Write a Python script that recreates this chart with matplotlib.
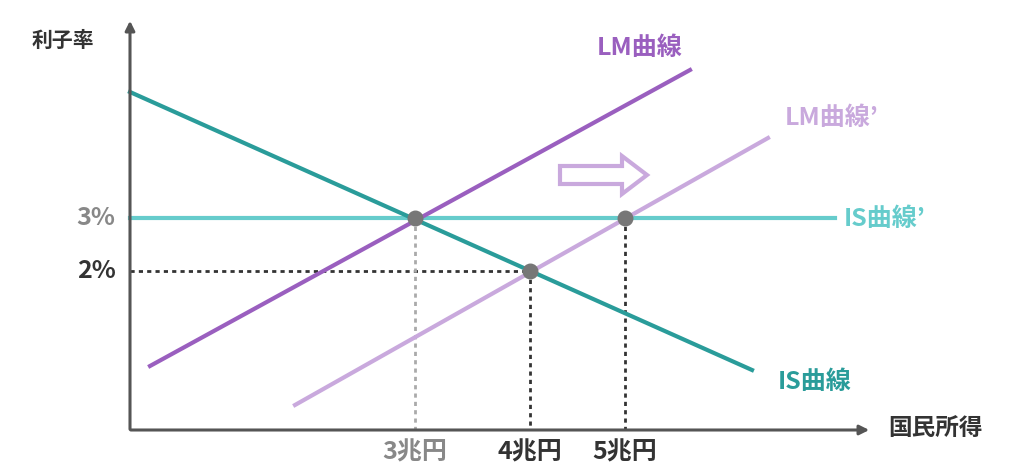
import matplotlib
matplotlib.use("Agg")
import matplotlib.pyplot as plt
from matplotlib.patches import FancyArrow

plt.rcParams['font.family'] = ['Noto Sans CJK JP', 'DejaVu Sans']

# curve endpoints (chart units)
is_x = [130, 752]; is_y = [92, 370]
lm_x = [150, 690]; lm_y = [366, 70]
lm2_x = [295, 768]; lm2_y = [405, 138]
is2_x = [130, 835]; is2_y = [218, 218]
pts_x = [415, 530, 625]; pts_y = [218, 271, 218]
xticks = [415, 530, 625]; xlabels = ["3兆円", "4兆円", "5兆円"]
yticks = [218, 271]; ylabels = ["3%", "2%"]

teal = "#2a9c9a"; purple = "#9a5fbf"; lpurple = "#c9a9dd"; lteal = "#66cccc"
gray = "#888888"; dark = "#333333"

fig = plt.figure(figsize=(10.24, 4.75), dpi=100)
ax = fig.add_axes([0, 0, 1, 1])
ax.set_xlim(0, 1024); ax.set_ylim(475, 0); ax.axis('off')

ax.annotate("", xy=(130, 18), xytext=(130, 432),
            arrowprops=dict(arrowstyle="-|>", color="#555555", lw=2.2, mutation_scale=14))
ax.annotate("", xy=(872, 430), xytext=(128, 430),
            arrowprops=dict(arrowstyle="-|>", color="#555555", lw=2.2, mutation_scale=14))

ax.plot([130, pts_x[0]], [pts_y[0]] * 2, ls=(0, (1.5, 1.5)), color="#aaaaaa", lw=2)
ax.plot([130, pts_x[1]], [pts_y[1]] * 2, ls=(0, (1.5, 1.5)), color=dark, lw=2)
ax.plot([pts_x[0]] * 2, [pts_y[0], 430], ls=(0, (1.5, 1.5)), color="#aaaaaa", lw=2)
ax.plot([pts_x[1]] * 2, [pts_y[1], 430], ls=(0, (1.5, 1.5)), color=dark, lw=2)
ax.plot([pts_x[2]] * 2, [pts_y[2], 430], ls=(0, (1.5, 1.5)), color=dark, lw=2)

ax.plot(is2_x, is2_y, color=lteal, lw=3)
ax.plot(lm2_x, lm2_y, color=lpurple, lw=3)
ax.plot(is_x, is_y, color=teal, lw=3)
ax.plot(lm_x, lm_y, color=purple, lw=3)
ax.scatter(pts_x, pts_y, s=110, color="#777777", zorder=5)

ax.add_patch(FancyArrow(560, 175, 62, 0, width=18, head_width=38, head_length=25,
                        length_includes_head=False, fc="white", ec=lpurple, lw=3))

fs = 18
ax.text(640, 48, "LM曲線", color=purple, fontsize=fs, weight='bold', ha='center', va='center')
ax.text(832, 118, "LM曲線’", color=lpurple, fontsize=fs, weight='bold', ha='center', va='center')
ax.text(885, 219, "IS曲線’", color=lteal, fontsize=fs, weight='bold', ha='center', va='center')
ax.text(815, 382, "IS曲線", color=teal, fontsize=fs, weight='bold', ha='center', va='center')
ax.text(63, 40, "利子率", color=dark, fontsize=15, weight='bold', ha='center', va='center')
ax.text(936, 428, "国民所得", color=dark, fontsize=17, weight='bold', ha='center', va='center')
for y, l, c in zip(yticks, ylabels, [gray, dark]):
    ax.text(96, y, l, color=c, fontsize=fs, weight='bold', ha='center', va='center')
for x, l, c in zip(xticks, xlabels, [gray, dark, dark]):
    ax.text(x, 452, l, color=c, fontsize=fs, weight='bold', ha='center', va='center')

fig.savefig("out.png", dpi=100, facecolor="white")
